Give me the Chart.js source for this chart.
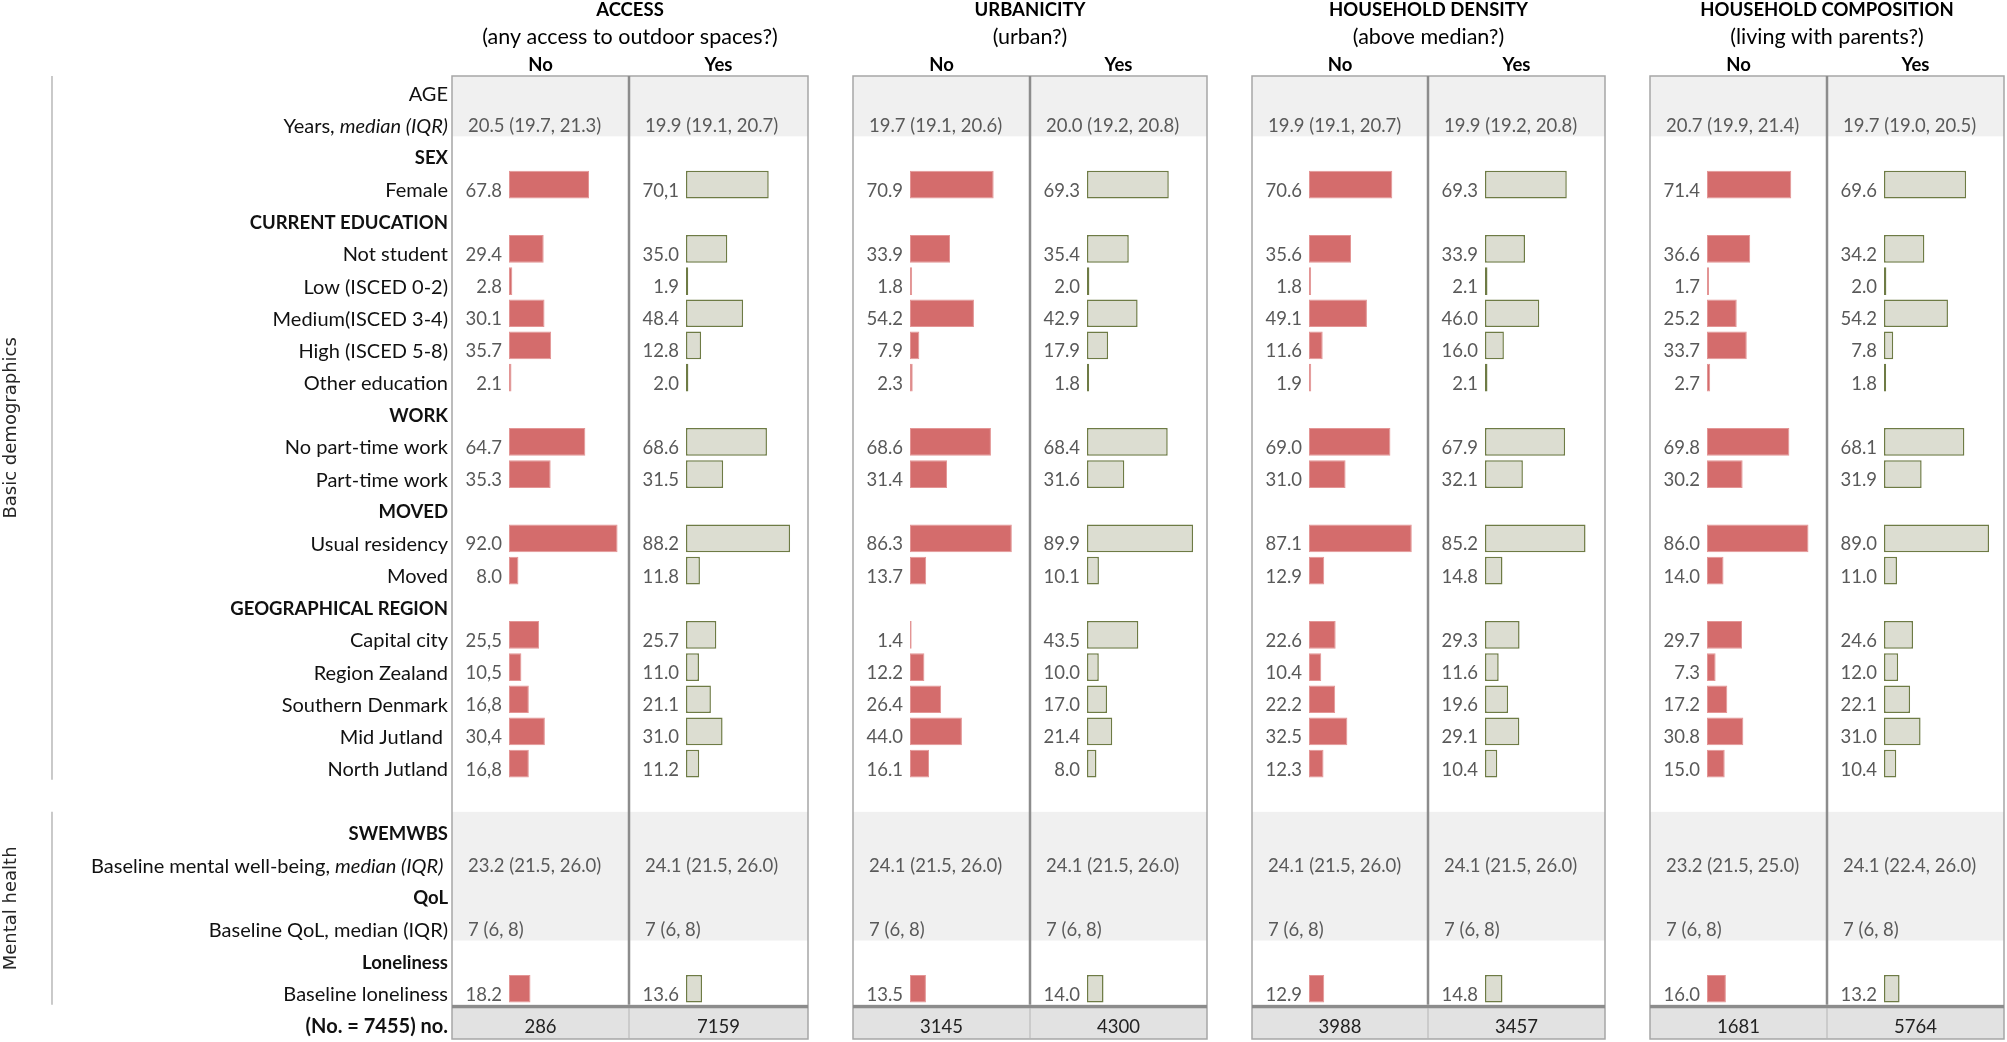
<!DOCTYPE html>
<html>
<head>
<meta charset="utf-8">
<title>Baseline characteristics by housing exposure</title>
<script src="https://cdn.jsdelivr.net/npm/chart.js@4.4.1/dist/chart.umd.min.js"></script>
<style>
  html, body { margin: 0; padding: 0; background: #fff; }
  #wrap { position: relative; width: 2007px; height: 1042px; }
</style>
</head>
<body>
<div id="wrap"><canvas id="chart"></canvas></div>
<script>
// ---- data ----
const rowLabels = [
  'AGE', 'Years, median (IQR)', 'SEX', 'Female', 'CURRENT EDUCATION', 'Not student',
  'Low (ISCED 0-2)', 'Medium(ISCED 3-4)', 'High (ISCED 5-8)', 'Other education', 'WORK',
  'No part-time work', 'Part-time work', 'MOVED', 'Usual residency', 'Moved',
  'GEOGRAPHICAL REGION', 'Capital city', 'Region Zealand', 'Southern Denmark', 'Mid Jutland ',
  'North Jutland', '', 'SWEMWBS', 'Baseline mental well-being, median (IQR)', 'QoL',
  'Baseline QoL, median (IQR)', 'Loneliness', 'Baseline loneliness', '(No. = 7455) no.'
];
const boldRows = ['SEX', 'CURRENT EDUCATION', 'WORK', 'MOVED', 'GEOGRAPHICAL REGION',
  'SWEMWBS', 'QoL', 'Loneliness', '(No. = 7455) no.'];

// rows that carry a percentage bar, in the order of the value arrays below
const barRows = ['Female', 'Not student', 'Low (ISCED 0-2)', 'Medium(ISCED 3-4)', 'High (ISCED 5-8)',
  'Other education', 'No part-time work', 'Part-time work', 'Usual residency', 'Moved',
  'Capital city', 'Region Zealand', 'Southern Denmark', 'Mid Jutland ', 'North Jutland',
  'Baseline loneliness'];

const accessNo   = [67.8, 29.4, 2.8, 30.1, 35.7, 2.1, 64.7, 35.3, 92.0, 8.0, 25.5, 10.5, 16.8, 30.4, 16.8, 18.2];
const accessYes  = [70.1, 35.0, 1.9, 48.4, 12.8, 2.0, 68.6, 31.5, 88.2, 11.8, 25.7, 11.0, 21.1, 31.0, 11.2, 13.6];
const urbanNo    = [70.9, 33.9, 1.8, 54.2, 7.9, 2.3, 68.6, 31.4, 86.3, 13.7, 1.4, 12.2, 26.4, 44.0, 16.1, 13.5];
const urbanYes   = [69.3, 35.4, 2.0, 42.9, 17.9, 1.8, 68.4, 31.6, 89.9, 10.1, 43.5, 10.0, 17.0, 21.4, 8.0, 14.0];
const densityNo  = [70.6, 35.6, 1.8, 49.1, 11.6, 1.9, 69.0, 31.0, 87.1, 12.9, 22.6, 10.4, 22.2, 32.5, 12.3, 12.9];
const densityYes = [69.3, 33.9, 2.1, 46.0, 16.0, 2.1, 67.9, 32.1, 85.2, 14.8, 29.3, 11.6, 19.6, 29.1, 10.4, 14.8];
const compNo     = [71.4, 36.6, 1.7, 25.2, 33.7, 2.7, 69.8, 30.2, 86.0, 14.0, 29.7, 7.3, 17.2, 30.8, 15.0, 16.0];
const compYes    = [69.6, 34.2, 2.0, 54.2, 7.8, 1.8, 68.1, 31.9, 89.0, 11.0, 24.6, 12.0, 22.1, 31.0, 10.4, 13.2];

const ageMedian = ['20.5 (19.7, 21.3)', '19.9 (19.1, 20.7)', '19.7 (19.1, 20.6)', '20.0 (19.2, 20.8)',
  '19.9 (19.1, 20.7)', '19.9 (19.2, 20.8)', '20.7 (19.9, 21.4)', '19.7 (19.0, 20.5)'];
const wellbeingMedian = ['23.2 (21.5, 26.0)', '24.1 (21.5, 26.0)', '24.1 (21.5, 26.0)', '24.1 (21.5, 26.0)',
  '24.1 (21.5, 26.0)', '24.1 (21.5, 26.0)', '23.2 (21.5, 25.0)', '24.1 (22.4, 26.0)'];
const qolMedian = ['7 (6, 8)', '7 (6, 8)', '7 (6, 8)', '7 (6, 8)', '7 (6, 8)', '7 (6, 8)', '7 (6, 8)', '7 (6, 8)'];
const sampleN = [286, 7159, 3145, 4300, 3988, 3457, 1681, 5764];

// the source table prints a few cells with a decimal comma
const commaCells = {
  accessNo: ['Capital city', 'Region Zealand', 'Southern Denmark', 'Mid Jutland ', 'North Jutland'],
  accessYes: ['Female']
};

const groupTitles = ['ACCESS', 'URBANICITY', 'HOUSEHOLD DENSITY', 'HOUSEHOLD COMPOSITION'];
const groupQuestions = ['(any access to outdoor spaces?)', '(urban?)', '(above median?)', '(living with parents?)'];
const answers = ['No', 'Yes'];

const columns = [
  {key: 'accessNo', values: accessNo}, {key: 'accessYes', values: accessYes},
  {key: 'urbanNo', values: urbanNo}, {key: 'urbanYes', values: urbanYes},
  {key: 'densityNo', values: densityNo}, {key: 'densityYes', values: densityYes},
  {key: 'compNo', values: compNo}, {key: 'compYes', values: compYes}
];

// ---- layout ----
const FONT = 'Lato, "Noto Sans", sans-serif';
const LABEL_SIZE = 20;    // regular row labels
const BOLD_SIZE = 18.5;   // headings
const VALUE_SIZE = 18.5;  // numbers in cells
const QUESTION_SIZE = 21.5;
const TEXT_DY = 6;        // text sits a little below the bar centre
const PX_PER_UNIT = 1.18; // bar length per percentage point
const BAR_INSET = 57;     // from column edge to bar start
const colWidths = [177, 179, 177, 177, 176, 177, 177, 177];
const GAP = 45;
const LABEL_WIDTH = 452;
const FOOT_LABEL = '(No. = 7455) no.';

const italicRows = {
  'Years, median (IQR)': ['Years, ', 'median (IQR)'],
  'Baseline mental well-being, median (IQR)': ['Baseline mental well-being, ', 'median (IQR) ']
};

function cellText(col, row, v) {
  let s = v.toFixed(1);
  if ((commaCells[col.key] || []).includes(row)) s = s.replace('.', ',');
  return s;
}

function geometry(chart) {
  const y = chart.scales.y;
  const rowH = y.getPixelForValue(1) - y.getPixelForValue(0);
  const rowTop = i => y.getPixelForValue(i) - rowH / 2;
  const footLine = rowTop(29);
  return {
    rowH, rowTop,
    rowMid: i => y.getPixelForValue(i),
    panelTop: rowTop(0) + 4,
    footLine,
    footTop: footLine + 3.5,
    footBottom: rowTop(30) + 2
  };
}

function panels(chart) {
  return [0, 1, 2, 3].map(k => {
    const a = chart.scales['c' + (2 * k)];
    const b = chart.scales['c' + (2 * k + 1)];
    return {left: a.left, mid: a.right, right: b.right, k};
  });
}

function put(ctx, str, x, y, align, font, color) {
  ctx.font = font;
  ctx.textAlign = align;
  ctx.textBaseline = 'middle';
  ctx.fillStyle = color;
  ctx.fillText(str, x, y);
}

const fBold = `bold ${BOLD_SIZE}px ${FONT}`;
const fLabel = `${LABEL_SIZE}px ${FONT}`;
const fItalic = `italic ${LABEL_SIZE}px ${FONT}`;
const fValue = `${VALUE_SIZE}px ${FONT}`;

const tablePlugin = {
  id: 'tableDecor',
  beforeDatasetsDraw(chart) {
    const {ctx} = chart;
    const g = geometry(chart);
    ctx.save();
    panels(chart).forEach(p => {
      const w = p.right - p.left;
      ctx.fillStyle = '#F0F0F0';
      ctx.fillRect(p.left, g.panelTop, w, g.rowTop(2) - g.panelTop);
      ctx.fillRect(p.left, g.rowTop(23), w, g.rowTop(27) - g.rowTop(23));
      ctx.fillStyle = '#E2E2E2';
      ctx.fillRect(p.left, g.footTop, w, g.footBottom - g.footTop);
    });
    ctx.restore();
  },
  afterDatasetsDraw(chart) {
    const {ctx} = chart;
    const g = geometry(chart);
    ctx.save();

    // panel frames and headings
    panels(chart).forEach(p => {
      ctx.strokeStyle = '#A6A6A6';
      ctx.lineWidth = 1.5;
      ctx.strokeRect(p.left, g.panelTop, p.right - p.left, g.footBottom - g.panelTop);
      ctx.strokeStyle = '#8C8C8C';
      ctx.lineWidth = 2.5;
      ctx.beginPath();
      ctx.moveTo(p.mid, g.panelTop);
      ctx.lineTo(p.mid, g.footLine);
      ctx.stroke();
      ctx.strokeStyle = '#B4B4B4';
      ctx.lineWidth = 1;
      ctx.beginPath();
      ctx.moveTo(p.mid, g.footTop);
      ctx.lineTo(p.mid, g.footBottom);
      ctx.stroke();
      ctx.fillStyle = '#8C8C8C';
      ctx.fillRect(p.left, g.footLine, p.right - p.left, 3.5);

      const cx = (p.left + p.right) / 2;
      put(ctx, groupTitles[p.k], cx, 10, 'center', fBold, '#000');
      put(ctx, groupQuestions[p.k], cx, 37.5, 'center', `${QUESTION_SIZE}px ${FONT}`, '#000');
      put(ctx, answers[0], (p.left + p.mid) / 2, 65, 'center', fBold, '#000');
      put(ctx, answers[1], (p.mid + p.right) / 2, 65, 'center', fBold, '#000');
    });

    // cell texts
    columns.forEach((col, di) => {
      const xs = chart.scales['c' + di];
      const meta = chart.getDatasetMeta(di);
      const zero = xs.getPixelForValue(0);
      meta.data.forEach((bar, i) => {
        const v = chart.data.datasets[di].data[i];
        if (v === null || v === undefined) return;
        put(ctx, cellText(col, rowLabels[i], v), zero - 7, bar.y + TEXT_DY, 'right', fValue, '#595959');
      });
      put(ctx, ageMedian[di], xs.left + 16, g.rowMid(1) + TEXT_DY, 'left', fValue, '#595959');
      put(ctx, wellbeingMedian[di], xs.left + 16, g.rowMid(24) + TEXT_DY, 'left', fValue, '#595959');
      put(ctx, qolMedian[di], xs.left + 16, g.rowMid(26) + TEXT_DY, 'left', fValue, '#595959');
      put(ctx, String(sampleN[di]), (xs.left + xs.right) / 2, (g.footTop + g.footBottom) / 2 + 3, 'center', fValue, '#222');
    });

    // row labels with an italic part
    const labelRight = chart.scales.y.right - 4;
    rowLabels.forEach((r, i) => {
      const parts = italicRows[r];
      if (!parts) return;
      put(ctx, parts[1], labelRight, g.rowMid(i) + TEXT_DY, 'right', fItalic, '#111');
      const w = ctx.measureText(parts[1]).width;
      put(ctx, parts[0], labelRight - w, g.rowMid(i) + TEXT_DY, 'right', fLabel, '#111');
    });

    // section brackets on the far left
    const sections = [
      {label: 'Basic demographics', lineFrom: g.panelTop, lineTo: g.rowTop(22)},
      {label: 'Mental health', lineFrom: g.rowTop(23), lineTo: g.footLine}
    ];
    sections.forEach(s => {
      ctx.strokeStyle = '#A6A6A6';
      ctx.lineWidth = 1.2;
      ctx.beginPath();
      ctx.moveTo(52, s.lineFrom);
      ctx.lineTo(52, s.lineTo);
      ctx.stroke();
      ctx.save();
      ctx.translate(11, (s.lineFrom + s.lineTo) / 2);
      ctx.rotate(-Math.PI / 2);
      ctx.font = '18px "DejaVu Sans", sans-serif';
      ctx.textAlign = 'center';
      ctx.textBaseline = 'middle';
      ctx.fillStyle = '#262626';
      ctx.fillText(s.label, 0, 0);
      ctx.restore();
    });

    ctx.restore();
  }
};

function buildScales() {
  const scales = {
    y: {
      type: 'category',
      position: 'left',
      offset: true,
      grid: {display: false, drawTicks: false},
      border: {display: false},
      ticks: {
        autoSkip: false,
        padding: 4,
        labelOffset: TEXT_DY,
        color: '#111',
        font: ctx => {
          const label = rowLabels[ctx.index];
          const bold = boldRows.includes(label);
          const size = label === FOOT_LABEL ? LABEL_SIZE : (bold ? BOLD_SIZE : LABEL_SIZE);
          return {family: FONT, size, weight: bold ? 'bold' : 'normal'};
        },
        callback: (v, i) => (italicRows[rowLabels[i]] ? '' : rowLabels[i])
      },
      afterFit: s => {
        s.width = LABEL_WIDTH;
        s.paddingTop = 0;
        s.paddingBottom = 0;
      }
    }
  };
  let order = 0;
  colWidths.forEach((w, i) => {
    scales['c' + i] = {
      type: 'linear', position: 'bottom', stack: 'cols', stackWeight: w, weight: order++,
      min: -BAR_INSET / PX_PER_UNIT, max: (w - BAR_INSET) / PX_PER_UNIT,
      display: false
    };
    if (i % 2 === 1 && i < colWidths.length - 1) {
      scales['g' + i] = {
        type: 'linear', position: 'bottom', stack: 'cols', stackWeight: GAP, weight: order++,
        min: 0, max: 1, display: false
      };
    }
  });
  return scales;
}

function draw() {
  const datasets = columns.map((col, i) => {
    const yes = i % 2 === 1;
    return {
      label: col.key,
      xAxisID: 'c' + i,
      yAxisID: 'y',
      data: rowLabels.map(r => {
        const k = barRows.indexOf(r);
        return k < 0 ? null : col.values[k];
      }),
      backgroundColor: yes ? '#DCDDD1' : '#D46C6C',
      borderColor: yes ? '#6E7B45' : '#E39595',
      borderWidth: yes ? 1.5 : 1,
      borderSkipped: false,
      grouped: false,
      barPercentage: 0.86,
      categoryPercentage: 1
    };
  });

  new Chart('chart', {
    type: 'bar',
    data: {labels: rowLabels, datasets},
    options: {
      indexAxis: 'y',
      responsive: true,
      maintainAspectRatio: false,
      animation: false,
      events: [],
      layout: {padding: {top: 72, right: 3, bottom: 5, left: 0}},
      scales: buildScales(),
      plugins: {
        legend: {display: false},
        tooltip: {enabled: false},
        title: {display: false}
      }
    },
    plugins: [tablePlugin]
  });
}

Promise.all([
  document.fonts.load(`${LABEL_SIZE}px Lato`),
  document.fonts.load(`bold ${BOLD_SIZE}px Lato`),
  document.fonts.load(`italic ${LABEL_SIZE}px Lato`)
]).then(draw, draw);
</script>
</body>
</html>
